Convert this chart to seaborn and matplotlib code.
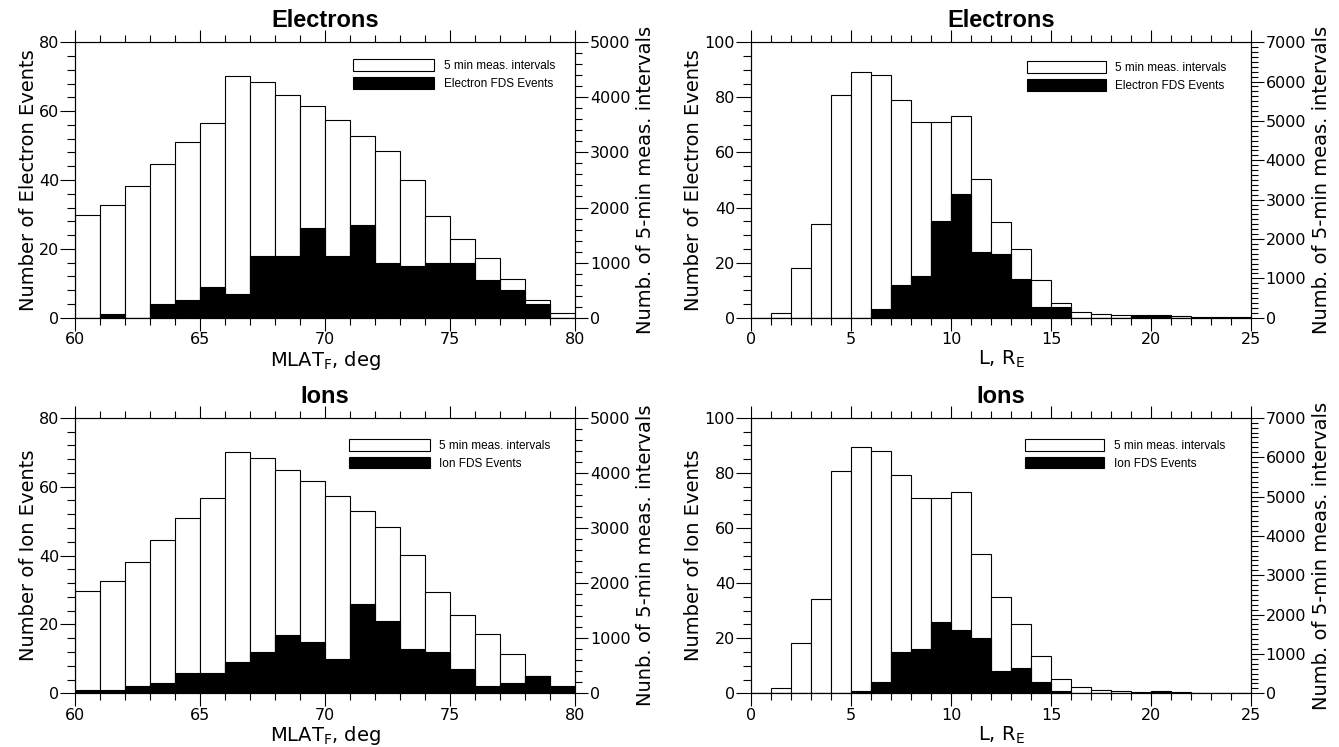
import numpy as np
import pandas as pd
import matplotlib
matplotlib.use("Agg")
import matplotlib.pyplot as plt
from matplotlib.patches import Patch
from matplotlib.ticker import MultipleLocator
import seaborn as sns

# Bin edges (1-degree MLAT bins and 1-RE L-shell bins)
mlat_edges = np.arange(60, 81, 1)
l_edges = np.arange(0, 26, 1)

# Number of 5-min measurement intervals per bin
mlat_intervals = [1860, 2045, 2385, 2790, 3185, 3540, 4385, 4275, 4045, 3845,
                  3585, 3300, 3025, 2505, 1845, 1420, 1080, 710, 320, 90]
l_intervals = [0, 125, 1275, 2390, 5650, 6250, 6160, 5540, 4970, 4970,
               5125, 3535, 2435, 1750, 950, 365, 150, 95, 65, 45,
               45, 38, 20, 20, 20]

# Flux dropout (FDS) event counts per bin
electron_mlat_events = [0, 1, 0, 4, 5, 9, 7, 18, 18, 26,
                        18, 27, 16, 15, 16, 16, 11, 8, 4, 0]
ion_mlat_events = [1, 1, 2, 3, 6, 6, 9, 12, 17, 15,
                   10, 26, 21, 13, 12, 7, 2, 3, 5, 2]
electron_l_events = [0, 0, 0, 0, 0, 0, 3, 12, 15, 35,
                     45, 24, 23, 14, 4, 4, 0, 0, 0, 1,
                     1, 0, 0, 0, 0]
ion_l_events = [0, 0, 0, 0, 0, 1, 4, 15, 16, 26,
                23, 20, 8, 9, 4, 1, 0, 0, 0, 0,
                1, 0, 0, 0, 0]

interval_label = "5 min meas. intervals"

sns.set_theme(style="ticks", rc={
    "axes.edgecolor": "black",
    "axes.linewidth": 0.8,
    "xtick.color": "black",
    "ytick.color": "black",
    "text.color": "black",
    "axes.labelcolor": "black",
    "xtick.direction": "out",
    "ytick.direction": "out",
})
plt.rcParams["font.family"] = ["DejaVu Sans"]
plt.rcParams["mathtext.default"] = "regular"

fig = plt.figure(figsize=(13.39, 7.47), dpi=100)

LEFT_X, RIGHT_X, W = 0.0562, 0.5609, 0.3734
TOP_Y, BOT_Y, H = 0.5747, 0.0719, 0.3688

legend_font = {"family": ["Liberation Sans", "DejaVu Sans"], "size": 8.5}


def panel(rect, edges, intervals, events, title, xlabel, ev_label, iv_label,
          ev_max, ev_minor, iv_max, iv_minor, ev_name, legend_xy, handle_len):
    ax = fig.add_axes(rect)
    ax2 = ax.twinx()
    df = pd.DataFrame({
        "center": (edges[:-1] + edges[1:]) / 2,
        "intervals": intervals,
        "events": events,
    })
    brange = (float(edges[0]), float(edges[-1]))

    # measurement intervals on the right-hand scale (drawn underneath)
    sns.histplot(data=df, x="center", weights="intervals", binwidth=1,
                 binrange=brange, ax=ax2, color="white", edgecolor="black",
                 linewidth=0.8, alpha=1)
    # event counts on the left-hand scale (drawn on top)
    sns.histplot(data=df, x="center", weights="events", binwidth=1,
                 binrange=brange, ax=ax, color="black", edgecolor="black",
                 linewidth=0.8, alpha=1)

    ax.set_zorder(ax2.get_zorder() + 1)
    ax.patch.set_visible(False)

    ax.set_xlim(edges[0], edges[-1])
    ax.set_ylim(0, ev_max)
    ax2.set_ylim(0, iv_max)

    ax.xaxis.set_major_locator(MultipleLocator(5))
    ax.xaxis.set_minor_locator(MultipleLocator(1))
    ax.yaxis.set_major_locator(MultipleLocator(20))
    ax.yaxis.set_minor_locator(MultipleLocator(ev_minor))
    ax2.yaxis.set_major_locator(MultipleLocator(1000))
    ax2.yaxis.set_minor_locator(MultipleLocator(iv_minor))

    ax.tick_params(axis="x", which="both", top=True, bottom=True, width=0.8,
                   labelsize=11.5, pad=1.5)
    ax.tick_params(axis="x", which="major", length=9)
    ax.tick_params(axis="x", which="minor", length=5)
    ax.tick_params(axis="y", which="both", left=True, right=False, width=0.8,
                   labelsize=11.5, pad=1)
    ax.tick_params(axis="y", which="major", length=10.5)
    ax.tick_params(axis="y", which="minor", length=5.5)
    ax2.tick_params(axis="y", which="both", right=True, width=0.8,
                    labelsize=11.5, pad=1)
    ax2.tick_params(axis="y", which="major", length=9.5)
    ax2.tick_params(axis="y", which="minor", length=5)

    for a in (ax, ax2):
        for sp in a.spines.values():
            sp.set_visible(True)
            sp.set_linewidth(0.8)
            sp.set_color("black")

    ax.set_title(title, fontsize=17, fontweight="bold",
                 family=["Liberation Sans", "DejaVu Sans"], pad=11)
    ax.set_xlabel(xlabel, fontsize=14, labelpad=1)
    ax.set_ylabel(ev_label, fontsize=14, labelpad=1)
    ax2.set_ylabel(iv_label, fontsize=14, labelpad=4)

    handles = [Patch(facecolor="white", edgecolor="black", linewidth=0.8),
               Patch(facecolor="black", edgecolor="black", linewidth=0.8)]
    ax.legend(handles=handles, labels=[interval_label, ev_name],
              loc="upper left", bbox_to_anchor=legend_xy, borderaxespad=0,
              borderpad=0, frameon=False, handlelength=handle_len,
              handleheight=1.14, handletextpad=0.82, labelspacing=0.42,
              prop=legend_font)
    return ax, ax2


mlat_label = r"MLAT$_F$, deg"
l_label = r"L, R$_E$"

panel([LEFT_X, TOP_Y, W, H], mlat_edges, mlat_intervals, electron_mlat_events,
      "Electrons", mlat_label, "Number of Electron Events",
      "Numb. of 5-min meas. intervals", 80, 4, 5000, 200,
      "Electron FDS Events", (0.556, 0.938), 6.86)
panel([RIGHT_X, TOP_Y, W, H], l_edges, l_intervals, electron_l_events,
      "Electrons", l_label, "Number of Electron Events",
      "Numb. of 5-min meas. intervals", 100, 5, 7000, 125,
      "Electron FDS Events", (0.551, 0.930), 6.7)
panel([LEFT_X, BOT_Y, W, H], mlat_edges, mlat_intervals, ion_mlat_events,
      "Ions", mlat_label, "Number of Ion Events",
      "Nunb. of 5-min meas. intervals", 80, 4, 5000, 200,
      "Ion FDS Events", (0.547, 0.923), 6.86)
panel([RIGHT_X, BOT_Y, W, H], l_edges, l_intervals, ion_l_events,
      "Ions", l_label, "Number of Ion Events",
      "Numb. of 5-min meas. intervals", 100, 5, 7000, 125,
      "Ion FDS Events", (0.548, 0.923), 6.7)

fig.savefig("out.png", dpi=100)
